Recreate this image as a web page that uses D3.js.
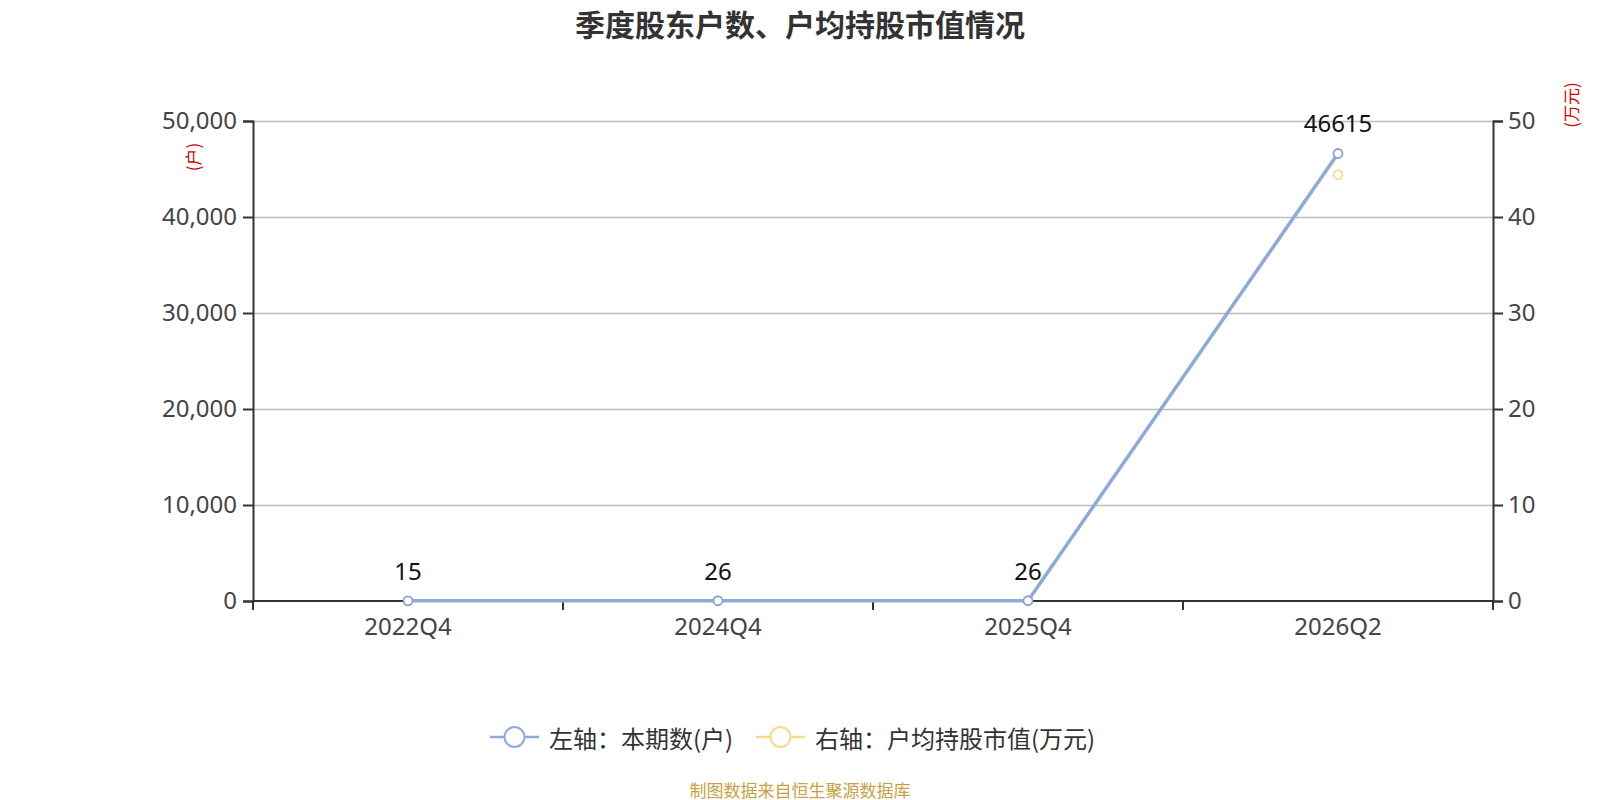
<!DOCTYPE html>
<html><head><meta charset="utf-8">
<script src="https://cdn.jsdelivr.net/npm/d3@7/dist/d3.min.js"></script>
<style>
html,body{margin:0;padding:0;background:#fff;}
svg{display:block;font-family:"Noto Sans CJK SC","Noto Sans",sans-serif;}
</style></head>
<body>
<svg id="chart" width="1600" height="800"></svg>
<script>
const categories = ["2022Q4","2024Q4","2025Q4","2026Q2"];
const holders = [15, 26, 26, 46615];
const avgValue = [null, null, null, 44.4];
const leftTicks = [0,10000,20000,30000,40000,50000];
const rightTicks = [0,10,20,30,40,50];
const title = "季度股东户数、户均持股市值情况";
const legendNames = ["左轴：本期数(户)", "右轴：户均持股市值(万元)"];
const leftUnit = "(户)";
const rightUnit = "(万元)";
const footer = "制图数据来自恒生聚源数据库";

const blue = "#8eaadb", blueMarker = "#8a9fd8", yellow = "#f8d98e";
const svg = d3.select("#chart");
const m = {l:253, r:1493, t:121, b:601};

const x = d3.scaleBand().domain(categories).range([m.l, m.r]);
const yL = d3.scaleLinear().domain([0,50000]).range([m.b, m.t]);
const yR = d3.scaleLinear().domain([0,50]).range([m.b, m.t]);

// title
svg.append("text").attr("x",800).attr("y",36).attr("text-anchor","middle")
  .attr("font-size",30).attr("font-weight","bold").attr("fill","#333").text(title);

// grid
svg.append("g").selectAll("line").data(leftTicks.filter(d=>d>0)).join("line")
  .attr("x1",m.l).attr("x2",m.r).attr("y1",d=>Math.round(yL(d))+0.5).attr("y2",d=>Math.round(yL(d))+0.5)
  .attr("stroke","#bdbdbd").attr("stroke-width",1.3);

// left axis
const gL = svg.append("g").attr("transform",`translate(${m.l},0)`)
  .call(d3.axisLeft(yL).tickValues(leftTicks).tickFormat(d3.format(",")).tickSize(10).tickPadding(6));
// right axis
const gR = svg.append("g").attr("transform",`translate(${m.r},0)`)
  .call(d3.axisRight(yR).tickValues(rightTicks).tickSize(10).tickPadding(5));
// bottom axis
const gB = svg.append("g").attr("transform",`translate(0,${m.b})`)
  .call(d3.axisBottom(x).tickSize(0).tickPadding(17));
[gL,gR,gB].forEach(g=>{
  g.select(".domain").attr("stroke","#333").attr("stroke-width",2);
  g.selectAll(".tick line").attr("stroke","#333").attr("stroke-width",2);
  g.selectAll(".tick text").attr("fill","#444").attr("font-size",24)
   .attr("font-family","'Noto Sans','Noto Sans CJK SC',sans-serif");
});
gB.select(".domain").attr("d",`M${m.l},0H${m.r}`);
// category boundary ticks
const bounds = categories.map(c=>x(c)).concat([m.r]);
svg.append("g").selectAll("line").data(bounds).join("line")
  .attr("x1",d=>d).attr("x2",d=>d).attr("y1",m.b).attr("y2",m.b+9)
  .attr("stroke","#333").attr("stroke-width",2);

// units
svg.append("text").attr("transform","translate(192,157) rotate(-90)")
  .attr("text-anchor","middle").attr("dominant-baseline","central")
  .attr("font-size",17).attr("fill","#d40000").text(leftUnit);
svg.append("text").attr("transform","translate(1570,105) rotate(-90)")
  .attr("text-anchor","middle").attr("dominant-baseline","central")
  .attr("font-size",17).attr("fill","#d40000").text(rightUnit);

const cx = c => x(c) + x.bandwidth()/2;

// blue line
const lineL = d3.line().x((d,i)=>cx(categories[i])).y(d=>yL(d));
svg.append("path").datum(holders).attr("d",lineL)
  .attr("fill","none").attr("stroke",blue).attr("stroke-width",3.5).attr("stroke-linejoin","round");
// yellow line (defined points only)
const lineR = d3.line().defined(d=>d!=null).x((d,i)=>cx(categories[i])).y(d=>yR(d));
svg.append("path").datum(avgValue).attr("d",lineR)
  .attr("fill","none").attr("stroke",yellow).attr("stroke-width",3.5);

// markers
svg.append("g").selectAll("circle").data(holders).join("circle")
  .attr("cx",(d,i)=>cx(categories[i])).attr("cy",d=>yL(d)).attr("r",4.5)
  .attr("fill","#fff").attr("stroke",blueMarker).attr("stroke-width",1.8);
svg.append("g").selectAll("circle").data(avgValue.map((v,i)=>({v,i})).filter(d=>d.v!=null)).join("circle")
  .attr("cx",d=>cx(categories[d.i])).attr("cy",d=>yR(d.v)).attr("r",4.5)
  .attr("fill","#fff").attr("stroke",yellow).attr("stroke-width",1.8);

// labels
svg.append("g").selectAll("text").data(holders).join("text")
  .attr("x",(d,i)=>cx(categories[i])).attr("y",d=>yL(d)-21)
  .attr("text-anchor","middle").attr("font-size",24).attr("fill","#111")
  .attr("font-family","'Noto Sans',sans-serif").text(d=>d);

// legend
const legY = 737;
const items = [{name:legendNames[0],color:blue,x0:490},{name:legendNames[1],color:yellow,x0:756}];
items.forEach(it=>{
  const g = svg.append("g");
  g.append("line").attr("x1",it.x0).attr("x2",it.x0+49).attr("y1",legY).attr("y2",legY)
    .attr("stroke",it.color).attr("stroke-width",2.5);
  g.append("circle").attr("cx",it.x0+24.5).attr("cy",legY).attr("r",10)
    .attr("fill","#fff").attr("stroke",it.color).attr("stroke-width",2);
  g.append("text").attr("x",it.x0+59).attr("y",legY).attr("dominant-baseline","central")
    .attr("font-size",24).attr("fill","#333").text(it.name);
});

// footer
svg.append("text").attr("x",800).attr("y",789).attr("text-anchor","middle")
  .attr("dominant-baseline","central").attr("font-size",17).attr("fill","#c9a043").text(footer);
</script>
</body></html>
